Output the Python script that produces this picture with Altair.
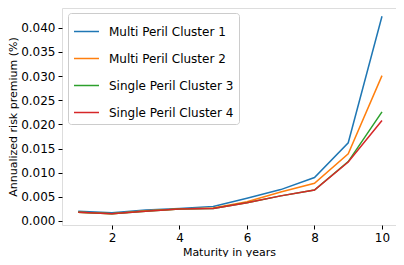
import altair as alt
import pandas as pd

maturity = [1, 2, 3, 4, 5, 6, 7, 8, 9, 10]
series_names = ["Multi Peril Cluster 1", "Multi Peril Cluster 2", "Single Peril Cluster 3", "Single Peril Cluster 4"]
mp1 = [0.0020, 0.0017, 0.0023, 0.0026, 0.0030, 0.0047, 0.0065, 0.0090, 0.0162, 0.0424]
mp2 = [0.0018, 0.0015, 0.0021, 0.0025, 0.0027, 0.0040, 0.0060, 0.0078, 0.0139, 0.0301]
sp3 = [0.0018, 0.0015, 0.0020, 0.0025, 0.0026, 0.0038, 0.0052, 0.0064, 0.0123, 0.0226]
sp4 = [0.0018, 0.0015, 0.0020, 0.0025, 0.0026, 0.0038, 0.0052, 0.0064, 0.0122, 0.0208]
colors = ["#1f77b4", "#ff7f0e", "#2ca02c", "#d62728"]
y_ticks = [0.0, 0.005, 0.01, 0.015, 0.02, 0.025, 0.03, 0.035, 0.04]
x_ticks = [2, 4, 6, 8, 10]

rows = []
for i, (name, vals) in enumerate(zip(series_names, [mp1, mp2, sp3, sp4])):
    for m, v in zip(maturity, vals):
        rows.append({"Maturity": m, "Premium": v, "Series": name, "order": i})
df = pd.DataFrame(rows)

font = "DejaVu Sans"
axis_common = dict(grid=False, domain=False, tickColor="black", tickSize=4,
                   labelFontSize=12, labelColor="black", titleFontSize=11,
                   titleFontWeight="normal", titleColor="black", labelFont=font,
                   titleFont=font, labelPadding=3)

chart = alt.Chart(df).mark_line(strokeWidth=1.5).encode(
    x=alt.X("Maturity:Q",
            scale=alt.Scale(domain=[0.52, 10.415], nice=False, zero=False),
            axis=alt.Axis(values=x_ticks, title="Maturity in years", format="d",
                          titlePadding=3, **axis_common)),
    y=alt.Y("Premium:Q",
            scale=alt.Scale(domain=[-0.00083, 0.0441], nice=False, zero=False),
            axis=alt.Axis(values=y_ticks, format=".3f", title="Annualized risk premium (%)",
                          titlePadding=2, **axis_common)),
    color=alt.Color("Series:N", sort=series_names,
                    scale=alt.Scale(domain=series_names, range=colors),
                    legend=alt.Legend(title=None, orient="none", legendX=6, legendY=5,
                                      symbolType="stroke", symbolSize=625, symbolStrokeWidth=1.5,
                                      labelFontSize=12, labelFont=font, labelColor="black",
                                      rowPadding=7, padding=5, strokeColor="#cccccc",
                                      fillColor="white", cornerRadius=3, labelOffset=9)),
    order=alt.Order("order:Q"),
).properties(
    width=334, height=217,
    autosize=alt.AutoSizeParams(type="none"),
    padding={"left": 54, "top": 0, "right": 0, "bottom": 32},
).configure_view(stroke="black", strokeWidth=1).configure(background="white")

chart.save("out.html", embed_options={"renderer": "svg", "actions": False})
